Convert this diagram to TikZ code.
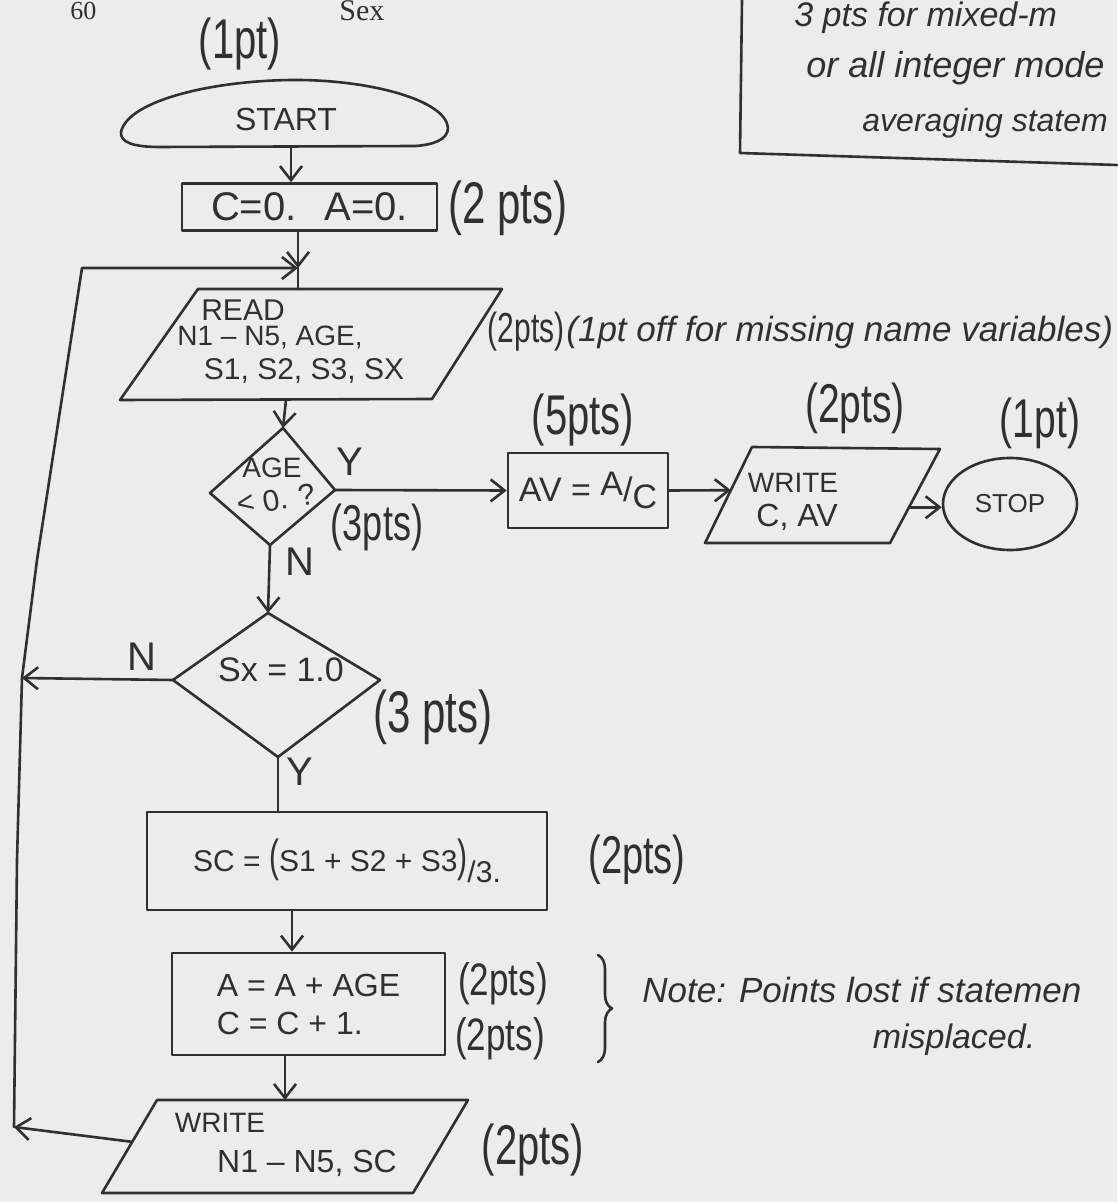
\documentclass[tikz,border=0pt]{standalone}
\usepackage{fontspec}
\usepackage{graphicx}
\usetikzlibrary{arrows.meta,shapes.geometric,decorations.pathreplacing,calc}
\newfontfamily\hand{Liberation Sans}
\newfontfamily\printed{Liberation Serif}
\newcommand\fsz[1]{\fontsize{#1}{#1}\selectfont}
\newcommand\tallx[1]{\scalebox{1}[1.4]{#1}}
\definecolor{ink}{RGB}{48,48,48}
\definecolor{paper}{RGB}{236,236,236}
\begin{document}
\begin{tikzpicture}[x=0.5pt,y=-0.5pt,color=ink,
  line/.style={line width=1.3pt,line cap=round,line join=round},
  flow/.style={line,-{Straight Barb[length=7pt,width=11pt,line width=1.3pt]}},
  box/.style={draw,line,rectangle,inner sep=0pt},
  lbl/.style={inner sep=0pt},
  note/.style={inner sep=0pt,font=\hand\itshape\fsz{18}}]
\fill[paper] (0,0) rectangle (1117,1202);
\useasboundingbox (0,0) rectangle (1117,1202);

% printed header
\node[lbl,font=\printed\fsz{13},anchor=base west] (pgnum) at (70,20) {60};
\node[lbl,font=\printed\fsz{15},anchor=base west] (sexhdr) at (339,21) {Sex};

% top-right note box
\coordinate (nb1) at (742,0);
\coordinate (nb2) at (740,153);
\coordinate (nb3) at (1117,165);
\draw[line] (nb1) -- (nb2) -- (nb3);
\node[note,font=\hand\itshape\fsz{17},anchor=base west] (nbt1) at (794,27) {3 pts for mixed-m};
\node[note,anchor=base west] (nbt2) at (806,78) {or all integer mode};
\node[note,font=\hand\itshape\fsz{16},anchor=base west] (nbt3) at (862,132) {averaging statem};

% START
\node[lbl,font=\hand\fsz{20}] (sc1pt) at (240,44) {\tallx{(1pt)}};
\coordinate (stL) at (121,132);
\coordinate (stTop) at (296,80);
\coordinate (stR) at (448,128);
\draw[line] (stL) .. controls (128,100) and (215,80) .. (stTop)
  .. controls (370,80) and (446,100) .. (stR)
  .. controls (448,140) and (432,145) .. (415,146) -- (160,147)
  .. controls (132,147) and (120,142) .. (stL);
\node[lbl,font=\hand\fsz{16}] (sttext) at (286,119) {START};
\coordinate (startB) at (291,147);

% C=0. A=0.
\node[box,minimum width=127.5pt,minimum height=23.5pt,font=\hand\fsz{20}] (cbox) at (309.5,207) {C=0.\hspace{14pt}A=0.};
\node[lbl,font=\hand\fsz{21}] (sc2a) at (508,208) {\tallx{(2 pts)}};
\draw[flow] (startB) -- (startB |- cbox.north);

% junction and loop
\coordinate (junc) at (298,268);
\draw[flow] (cbox.south -| junc) -- (junc);

% READ
\coordinate (r1) at (198,289);
\coordinate (r2) at (502,289);
\coordinate (r3) at (432,399);
\coordinate (r4) at (120,400);
\draw[line] (r1) -- (r2) -- (r3) -- (r4) -- cycle;
\draw[line] (junc) -- (junc |- r1);
\node[lbl,font=\hand\fsz{15}] (rd1) at (243,310) {READ};
\node[lbl,font=\hand\fsz{14}] (rd2) at (270,338) {N1 – N5, AGE,};
\node[lbl,font=\hand\fsz{15}] (rd3) at (304,371) {S1, S2, S3, SX};
\node[lbl,font=\hand\fsz{15}] (sc2b) at (526,332) {\tallx{(2pts)}};
\node[note,font=\hand\itshape\fsz{17.5},anchor=west] (miss) at (566,332) {(1pt off for missing name variables)};
\coordinate (readB) at (286,400);

% AGE diamond
\coordinate (a1) at (283,428);
\coordinate (a2) at (335,490);
\coordinate (a3) at (270,545);
\coordinate (a4) at (210,493);
\draw[line] (a1) -- (a2) -- (a3) -- (a4) -- cycle;
\draw[flow] (readB) -- (a1);
\node[lbl,font=\hand\fsz{14}] (ag1) at (272,468) {AGE};
\node[lbl,font=\hand\fsz{15},rotate=10] (ag2) at (276,500) {\raisebox{.15ex}{<} 0. ?};
\node[lbl,font=\hand\fsz{20}] (yes1) at (350,462) {Y};
\node[lbl,font=\hand\fsz{18}] (sc3a) at (377,527) {\tallx{(3pts)}};
\node[lbl,font=\hand\fsz{20}] (no1) at (300,562) {N};

% AV box
\node[box,minimum width=80pt,minimum height=37.5pt,font=\hand\fsz{17}] (avbox) at (588,490.5) {AV = \raisebox{.3ex}{A}/\raisebox{-.4ex}{C}};
\node[lbl,font=\hand\fsz{20}] (sc5) at (583,420) {\tallx{(5pts)}};
\draw[flow] (a2) -- (avbox.west);

% WRITE C, AV
\coordinate (w1) at (752,447);
\coordinate (w2) at (940,449);
\coordinate (w3) at (890,543);
\coordinate (w4) at (705,543);
\draw[line] (w1) -- (w2) -- (w3) -- (w4) -- cycle;
\coordinate (wL) at ($(w1)!0.45!(w4)$);
\coordinate (wR) at ($(w2)!0.62!(w3)$);
\draw[flow] (avbox.east) -- (wL);
\node[lbl,font=\hand\fsz{14}] (wt1) at (793,483) {WRITE};
\node[lbl,font=\hand\fsz{16}] (wt2) at (797,517) {C, AV};
\node[lbl,font=\hand\fsz{19.5}] (sc2c) at (855,408) {\tallx{(2pts)}};

% STOP
\node[draw,line,ellipse,minimum width=67pt,minimum height=46pt,inner sep=0pt,font=\hand\fsz{13}] (stop) at (1010,504) {STOP};
\node[lbl,font=\hand\fsz{19.5}] (sc1b) at (1040,423) {\tallx{(1pt)}};
\draw[flow] (wR) -- (stop.west |- wR);

% Sx diamond
\coordinate (s1) at (268,613);
\coordinate (s2) at (380,680);
\coordinate (s3) at (278,757);
\coordinate (s4) at (173,680);
\draw[line] (s1) -- (s2) -- (s3) -- (s4) -- cycle;
\draw[flow] (a3) -- (s1);
\node[lbl,font=\hand\fsz{17}] (sxt) at (281,670) {Sx = 1.0};
\node[lbl,font=\hand\fsz{20}] (no2) at (142,657) {N};
\node[lbl,font=\hand\fsz{21}] (sc3b) at (433,717) {\tallx{(3 pts)}};
\node[lbl,font=\hand\fsz{20}] (yes2) at (300,772) {Y};

% loop line
\coordinate (loopB) at (14,1127);
\coordinate (loop1) at (17,860);
\coordinate (loopM) at (22,678);
\coordinate (loop2) at (37,560);
\coordinate (loopTL) at (82,268);
\draw[flow] (s4) -- (loopM);
\draw[flow] (loopB) -- (loop1) -- (loopM) -- (loop2) -- (loopTL) -- (junc);

% SC box
\node[box,minimum width=200pt,minimum height=49pt,font=\hand\fsz{15}] (scbox) at (347,861) {SC = \scalebox{1}[1.5]{(}S1 + S2 + S3\scalebox{1}[1.5]{)}\raisebox{-.7ex}{/3.}};
\node[lbl,font=\hand\fsz{19}] (sc2d) at (637,860) {\tallx{(2pts)}};
\draw[line] (s3) -- (s3 |- scbox.north);

% A box
\coordinate (col2) at (292,0);
\node[box,minimum width=136.5pt,minimum height=51pt,align=left,font=\hand\fontsize{16}{19}\selectfont] (abox) at (308.5,1004) {A = A + AGE\\C = C + 1.};
\draw[flow] (scbox.south -| col2) -- (abox.north -| col2);
\node[lbl,font=\hand\fsz{17.5}] (sc2e) at (503,984) {\scalebox{1}[1.3]{(2pts)}};
\node[lbl,font=\hand\fsz{17.5}] (sc2f) at (500,1039) {\scalebox{1}[1.3]{(2pts)}};
\coordinate (bt) at (598,955);
\coordinate (bb) at (598,1062);
\draw[line,decorate,decoration={brace,amplitude=7pt}] (bt) -- (bb);
\node[note,font=\hand\itshape\fsz{17.5},anchor=west] (note1) at (642,990) {Note: Points lost if statemen};
\node[note,font=\hand\itshape\fsz{17}] (note2) at (954,1040) {misplaced.};

% WRITE N1-N5, SC
\coordinate (v1) at (157,1100);
\coordinate (v2) at (468,1100);
\coordinate (v3) at (413,1193);
\coordinate (v4) at (102,1193);
\draw[line] (v1) -- (v2) -- (v3) -- (v4) -- cycle;
\coordinate (col3) at (285,0);
\draw[flow] (abox.south -| col3) -- (col3 |- v1);
\node[lbl,font=\hand\fsz{14}] (wt3) at (220,1123) {WRITE};
\node[lbl,font=\hand\fsz{16}] (wt4) at (307,1163) {N1 – N5, SC};
\node[lbl,font=\hand\fsz{20}] (sc2g) at (533,1150) {\tallx{(2pts)}};
\coordinate (vL) at ($(v1)!0.45!(v4)$);
\draw[flow] (vL) -- (loopB);
\end{tikzpicture}
\end{document}
